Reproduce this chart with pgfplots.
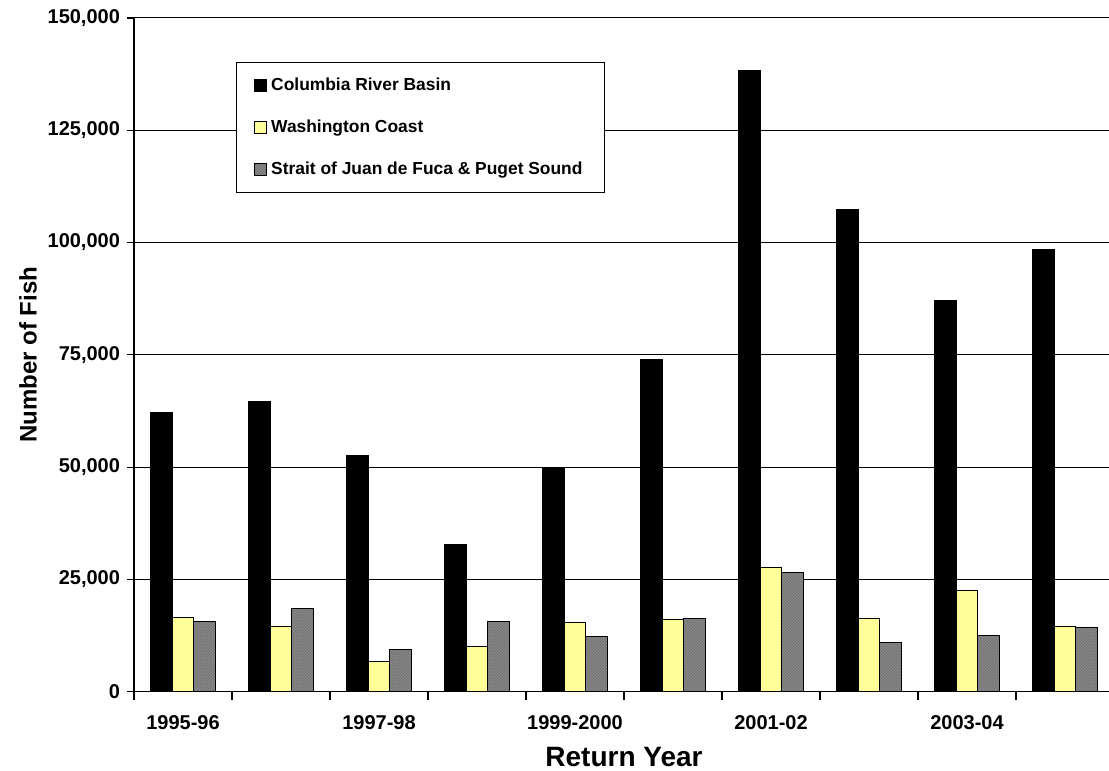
\documentclass[border=0pt]{standalone}
\usepackage{pgfplots}
\pgfplotsset{compat=1.18}
\usepackage{fontspec}
\setmainfont{Liberation Sans}
\usetikzlibrary{patterns}

\definecolor{coastyellow}{HTML}{FFFF99}
\definecolor{straitgray}{HTML}{8C8C8C}

% fine diagonal hatching used for the Strait / Puget Sound bars
\pgfdeclarepatternformonly{finehatch}{\pgfqpoint{-0.5pt}{-0.5pt}}{\pgfqpoint{2pt}{2pt}}{\pgfqpoint{1.5pt}{1.5pt}}{%
  \pgfsetlinewidth{0.45pt}%
  \pgfpathmoveto{\pgfqpoint{-0.2pt}{-0.2pt}}%
  \pgfpathlineto{\pgfqpoint{1.7pt}{1.7pt}}%
  \pgfusepath{stroke}}

\begin{document}
\begin{tikzpicture}
\begin{axis}[
  at={(67pt,39.65pt)}, anchor=south west,
  scale only axis,
  width=490pt, height=336.85pt,
  xmin=-0.5, xmax=9.5,
  ymin=0, ymax=150000,
  ybar=0pt, bar width=0.224,
  axis x line*=bottom, axis y line*=left,
  axis line style={black, line width=0.6pt, -},
  xtick={0,2,4,6,8},
  xticklabels={1995-96,1997-98,1999-2000,2001-02,2003-04},
  major x tick style={draw=none},
  minor xtick={-0.5,0.5,...,9.5},
  minor x tick style={black, line width=0.6pt},
  minor tick length=4pt,
  ytick={0,25000,...,150000},
  major tick length=3.5pt,
  tick align=outside,
  y tick style={black, line width=0.6pt},
  ymajorgrids,
  grid style={black, line width=0.5pt},
  scaled y ticks=false,
  yticklabel style={/pgf/number format/.cd, fixed, 1000 sep={,}, assume math mode=true},
  ticklabel style={font=\fontsize{10}{12}\selectfont\bfseries},
  xticklabel style={yshift=-5pt},
  xlabel={Return Year},
  ylabel={Number of Fish},
  xlabel style={font=\fontsize{14}{16}\selectfont\bfseries, yshift=-2pt},
  ylabel style={font=\fontsize{12}{14}\selectfont\bfseries, yshift=-1.5pt},
  legend style={
    at={(0.104,0.9347)}, anchor=north west,
    draw=black, line width=0.5pt, fill=white,
    font=\fontsize{8.7}{10}\selectfont\bfseries,
    inner xsep=9pt, inner ysep=5.5pt,
    row sep=9.25pt,
    /tikz/every even column/.append style={column sep=2pt},
  },
  legend cell align=left,
  legend image code/.code={\draw[#1, draw=black, line width=0.4pt] (0pt,-3pt) rectangle (6pt,3pt);},
  every axis plot/.append style={draw=black, line width=0.5pt},
]
\addplot[fill=black] coordinates {
  (0,62100) (1,64600) (2,52600) (3,32800) (4,49900)
  (5,74000) (6,138400) (7,107400) (8,87100) (9,98500)};
\addlegendentry{Columbia River Basin}

\addplot[fill=coastyellow] coordinates {
  (0,16500) (1,14500) (2,6800) (3,10000) (4,15500)
  (5,16100) (6,27600) (7,16200) (8,22500) (9,14600)};
\addlegendentry{Washington Coast}

\addplot[fill=straitgray, postaction={pattern=finehatch, pattern color=black!55}] coordinates {
  (0,15700) (1,18500) (2,9400) (3,15700) (4,12400)
  (5,16400) (6,26500) (7,10900) (8,12500) (9,14200)};
\addlegendentry{Strait of Juan de Fuca \& Puget Sound}
\end{axis}
\pgfresetboundingbox
\useasboundingbox (0,0) rectangle (554.5pt,385.5pt);
\end{tikzpicture}
\end{document}
